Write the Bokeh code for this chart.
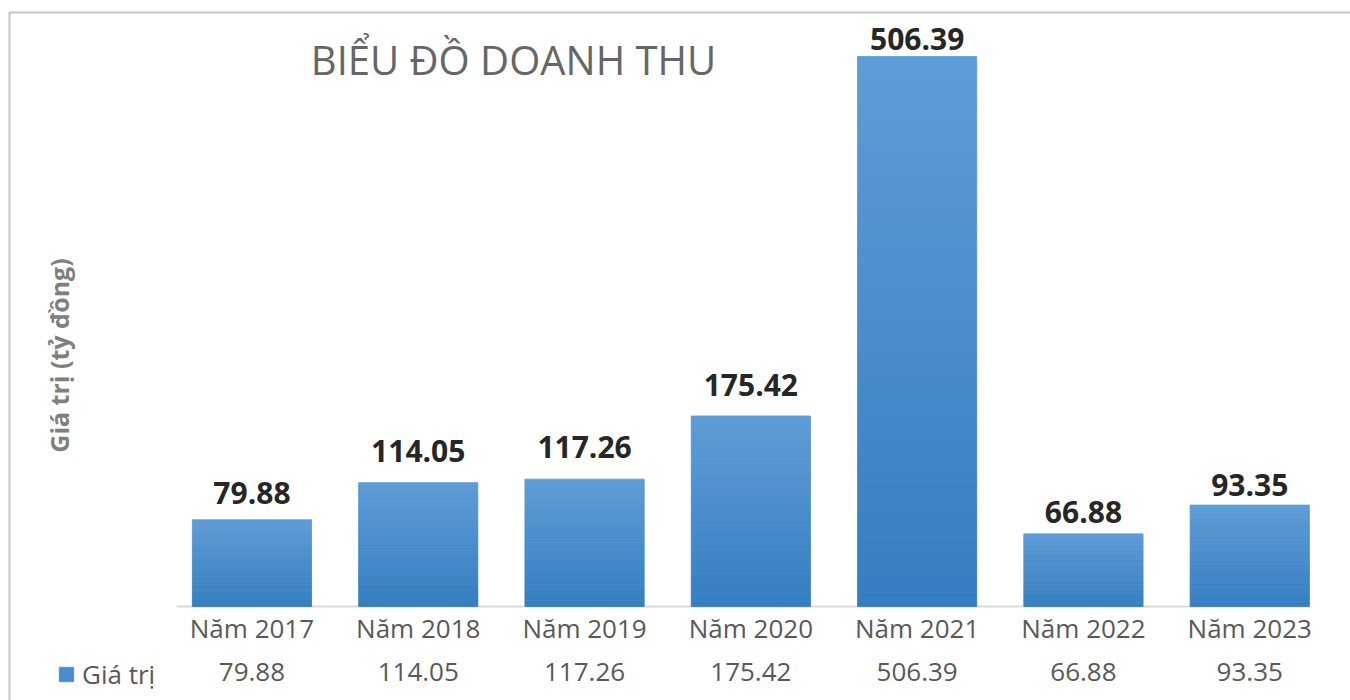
import math
from bokeh.plotting import figure
from bokeh.models import (ColumnDataSource, Range1d, Label, Legend, LegendItem, BoxAnnotation)
from bokeh.core.properties import value
from bokeh.embed import file_html
from bokeh.resources import INLINE

# ---- data ----
years = ["Năm 2017", "Năm 2018", "Năm 2019", "Năm 2020", "Năm 2021", "Năm 2022", "Năm 2023"]
revenue = [79.88, 114.05, 117.26, 175.42, 506.39, 66.88, 93.35]
value_labels = ["79.88", "114.05", "117.26", "175.42", "506.39", "66.88", "93.35"]
series_name = "Giá trị"
chart_title = "BIỂU ĐỒ DOANH THU"
y_title = "Giá trị (tỷ đồng)"

# ---- layout / style (not data) ----
FONT = "Open Sans"
GRAY = "#595959"
W, H = 1350, 700
PA_LEFT = 168.3          # plot area left edge (px)
CAT_W = 166.3            # category width (px)
BASE_Y = 606             # baseline (px from top)
K = 550 / 506.39         # px per data unit
label_gap_px = [15, 20, 20, 19, 6, 10, 8]   # gap between bar top and its data label
BASELINE_FIX = 12        # renderer's alphabetic baseline correction (px)

x_range = Range1d(-PA_LEFT / CAT_W, (W - PA_LEFT) / CAT_W)
y_range = Range1d(-(H - BASE_Y) / K, BASE_Y / K)

p = figure(width=W, height=H, x_range=x_range, y_range=y_range,
           output_backend="svg", toolbar_location=None,
           min_border=0, min_border_left=0, min_border_right=0,
           min_border_top=0, min_border_bottom=0)
p.outline_line_color = None
p.grid.visible = False
p.axis.visible = False
p.background_fill_color = "white"
p.border_fill_color = "white"

xc = [i + 0.5 for i in range(len(years))]

# axis baseline
p.segment(x0=[(176 - PA_LEFT) / CAT_W], x1=[len(years) - 0.14], y0=[0], y1=[0],
          line_color="#d9d9d9", line_width=2)

# gradient bars: each bar split into horizontal slices (light top -> darker bottom)
N = 40
top_rgb = (0x5d, 0x9c, 0xd6)
bot_rgb = (0x36, 0x7e, 0xc1)
xs, bottoms, tops, colors = [], [], [], []
for x, v in zip(xc, revenue):
    for i in range(N):
        t = (i + 0.5) / N
        c = tuple(round(b + (a - b) * t) for a, b in zip(top_rgb, bot_rgb))
        xs.append(x)
        bottoms.append(v * i / N)
        tops.append(v * (i + 1) / N)
        colors.append("#%02x%02x%02x" % c)
src = ColumnDataSource(dict(x=xs, bottom=bottoms, top=tops, color=colors))
bars = p.vbar(x="x", bottom="bottom", top="top", width=0.717, source=src,
              fill_color="color", line_color="color", line_width=0.8)

# data labels above bars
p.text(x=xc, y=[v + (g + BASELINE_FIX) / K for v, g in zip(revenue, label_gap_px)],
       text=value_labels, text_font=value(FONT),
       text_font_style="bold", text_font_size="30px", text_color="#262626",
       text_align="center", text_baseline="alphabetic")

# category labels
p.text(x=xc, y=[-21 / K] * len(years), text=years, text_font=value(FONT),
       text_font_size="26px", text_color=GRAY,
       text_align="center", text_baseline="alphabetic")

# data table row
p.text(x=xc, y=[-65 / K] * len(years), text=value_labels, text_font=value(FONT),
       text_font_size="26px", text_color=GRAY,
       text_align="center", text_baseline="alphabetic")

# legend key for the table row
legend = Legend(items=[LegendItem(label=series_name, renderers=[bars], index=N // 2)],
                location=(57, H - 692), orientation="horizontal",
                label_text_font=FONT, label_text_font_size="26px", label_text_color=GRAY,
                glyph_width=18, glyph_height=18, label_standoff=7,
                padding=0, margin=0, spacing=0,
                border_line_color=None, background_fill_alpha=0)
p.add_layout(legend, "center")

# title
p.add_layout(Label(x=513, y=H - 59, x_units="screen", y_units="screen", text=chart_title,
                   text_font=FONT, text_font_size="40px", text_color="#666666",
                   text_align="center", text_baseline="middle"))

# vertical axis title
p.add_layout(Label(x=58, y=H - 355, x_units="screen", y_units="screen", text=y_title,
                   angle=math.pi / 2, text_font=FONT, text_font_size="25px",
                   text_font_style="bold", text_color="#7f7f7f",
                   text_align="center", text_baseline="middle"))

# chart border (left and top edges visible)
p.add_layout(BoxAnnotation(left=9, right=W + 50, top=H - 12, bottom=-50,
                           left_units="screen", right_units="screen",
                           top_units="screen", bottom_units="screen",
                           fill_alpha=0, line_color="#404040", line_width=2))

open("out.html", "w").write(file_html(p, INLINE))
